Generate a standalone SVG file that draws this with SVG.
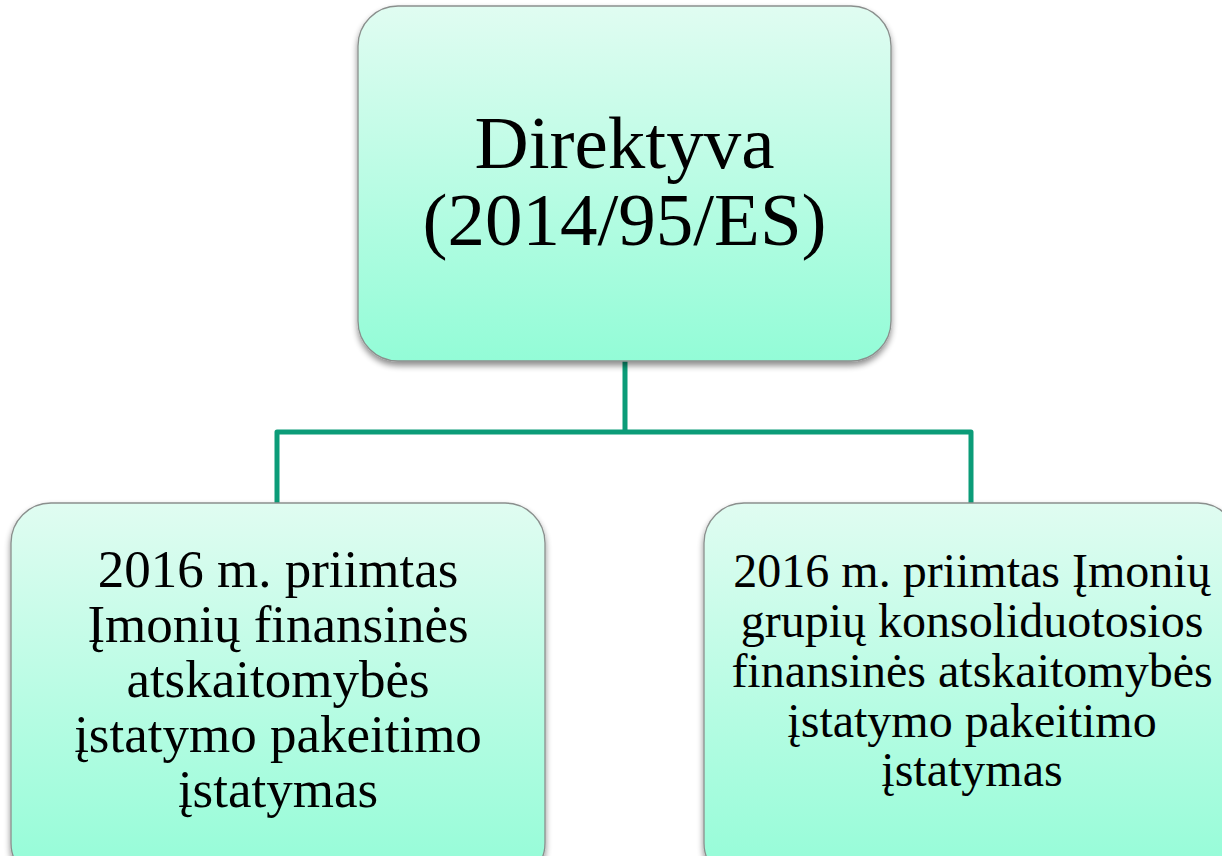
<svg xmlns="http://www.w3.org/2000/svg" width="1222" height="856" viewBox="0 0 1222 856">
<defs>
<linearGradient id="g" x1="0" y1="0" x2="0" y2="1">
<stop offset="0" stop-color="#e0fcf1"/>
<stop offset="1" stop-color="#93fcd7"/>
</linearGradient>
<filter id="sh" x="-10%" y="-10%" width="120%" height="125%">
<feGaussianBlur in="SourceAlpha" stdDeviation="3"/>
<feOffset dx="0" dy="4" result="b"/>
<feComponentTransfer><feFuncA type="linear" slope="0.45"/></feComponentTransfer>
<feMerge><feMergeNode/><feMergeNode in="SourceGraphic"/></feMerge>
</filter>
</defs>
<style>
.box{fill:url(#g);stroke:#8a8f8d;stroke-width:1.3;filter:url(#sh)}
.t{font-family:"Liberation Serif","Times New Roman",serif;fill:#000;text-anchor:middle}
.c{fill:none;stroke:#0b9c78;stroke-width:5;stroke-linejoin:round}
</style>
<rect width="1222" height="856" fill="#fff"/>
<g id="connectors">
<path class="c" d="M625 360 V432 M277 504 V432 H971 V504"/>
</g>
<g id="top">
<rect class="box" x="358" y="6" width="533" height="355" rx="40"/>
<text class="t" font-size="75"><tspan x="624.5" y="168">Direktyva</tspan><tspan x="624.5" y="245">(2014/95/ES)</tspan></text>
</g>
<g id="left">
<rect class="box" x="11" y="503" width="534" height="380" rx="40"/>
<text class="t" font-size="53"><tspan x="278" y="587">2016 m. priimtas</tspan><tspan x="278" y="642">Įmonių finansinės</tspan><tspan x="278" y="697">atskaitomybės</tspan><tspan x="278" y="752">įstatymo pakeitimo</tspan><tspan x="278" y="807">įstatymas</tspan></text>
</g>
<g id="right">
<rect class="box" x="704" y="503" width="534" height="380" rx="40"/>
<text class="t" font-size="48"><tspan x="972" y="587">2016 m. priimtas Įmonių</tspan><tspan x="972" y="637">grupių konsoliduotosios</tspan><tspan x="972" y="687">finansinės atskaitomybės</tspan><tspan x="972" y="737">įstatymo pakeitimo</tspan><tspan x="972" y="786">įstatymas</tspan></text>
</g>
</svg>
